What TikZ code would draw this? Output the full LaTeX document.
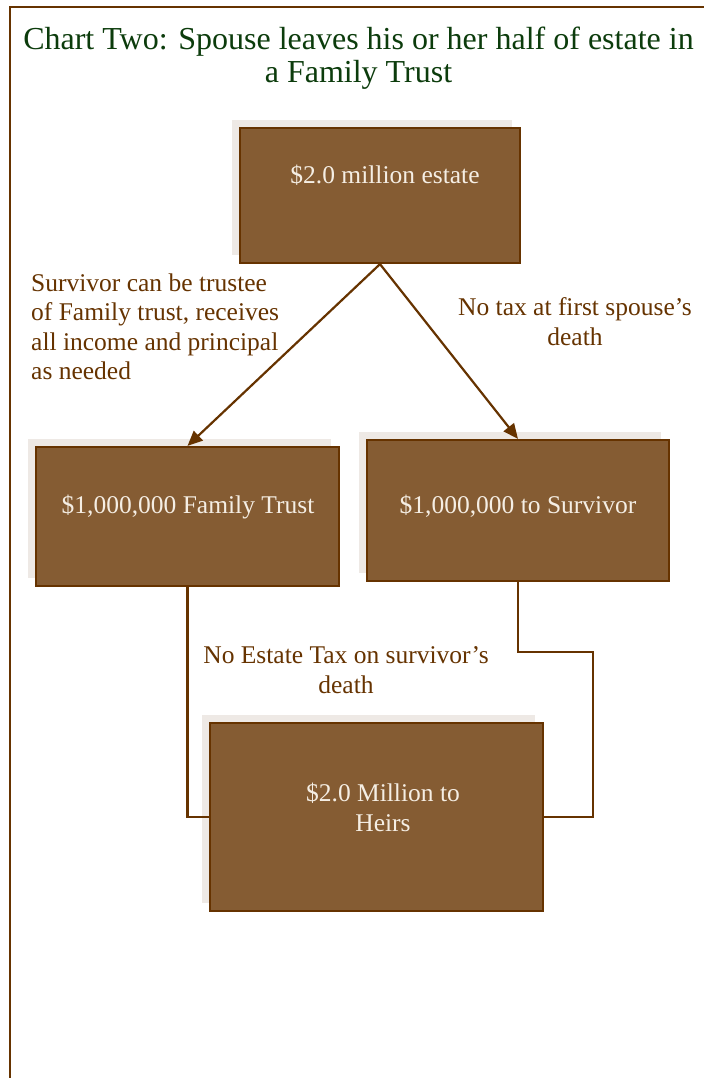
\documentclass[tikz,border=0pt]{standalone}
\usepackage{fontspec}
\setmainfont{Liberation Serif}
\usetikzlibrary{shadows,arrows.meta}
\definecolor{brownline}{RGB}{102,51,0}
\definecolor{boxfill}{RGB}{133,92,51}
\definecolor{shadowc}{RGB}{238,233,229}
\definecolor{titlegreen}{RGB}{12,60,12}
\definecolor{boxtext}{RGB}{245,238,228}
\begin{document}
\begin{tikzpicture}[x=1pt,y=-1pt,
 box/.style={draw=brownline, line width=2.2pt, fill=boxfill, rectangle, inner sep=0pt,
   general shadow={fill=shadowc, shadow xshift=-8pt, shadow yshift=8pt}},
 boxlabel/.style={text=boxtext, font=\fontsize{25.5}{30}\selectfont, align=center, inner sep=0pt, anchor=base},
 note/.style={text=brownline, font=\fontsize{25.5}{29.5}\selectfont, inner sep=0pt, anchor=base},
 conn/.style={draw=brownline, line width=2.2pt},
 arr/.style={conn, -{Triangle[length=15pt,width=13pt]}}
]
\useasboundingbox (0,0) rectangle (704,1078);
\fill[white] (0,0) rectangle (704,1078);
\draw[brownline, line width=2.2pt] (10,1078) -- (10,7) -- (704,7);

\node[text=titlegreen, font=\fontsize{32}{33}\selectfont, align=center, inner sep=0pt, anchor=base] (title) at (358.5,83)
  {Chart Two: Spouse leaves his or her half of estate in\\a Family Trust};

\node[box, minimum width=280pt, minimum height=135pt] (b1) at (380,195.5) {};
\node[box, minimum width=303pt, minimum height=139pt] (bL) at (187.5,516.5) {};
\node[box, minimum width=302pt, minimum height=141pt] (bR) at (518,510.5) {};
\node[box, minimum width=333pt, minimum height=188pt] (bH) at (376.5,817) {};

\node[boxlabel] (t1) at (385,183) {\$2.0 million estate};
\node[boxlabel] (tL) at (188,513) {\$1,000,000 Family Trust};
\node[boxlabel] (tR) at (518,513) {\$1,000,000 to Survivor};
\node[boxlabel] (tH) at (383,831) {\$2.0 Million to\\Heirs};

\draw[arr] (b1.south) -- (bL.north);
\draw[arr] (b1.south) -- (bR.north);

\coordinate (cL) at (bL.south |- bH.west);
\draw[conn] (bL.south) -- (cL) -- (bH.west);
\coordinate (cR1) at (518,652);
\coordinate (cR2) at (593,652);
\coordinate (cR3) at (593,817);
\draw[conn] (bR.south) -- (cR1) -- (cR2) -- (cR3) -- (bH.east);

\node[note, align=left, anchor=base west] (n1) at (31,379.5)
  {Survivor can be trustee\\of Family trust, receives\\all income and principal\\as needed};
\node[note, align=center] (n2) at (575,345) {No tax at first spouse’s\\death};
\node[note, align=center] (n3) at (346,693) {No Estate Tax on survivor’s\\death};
\end{tikzpicture}
\end{document}
